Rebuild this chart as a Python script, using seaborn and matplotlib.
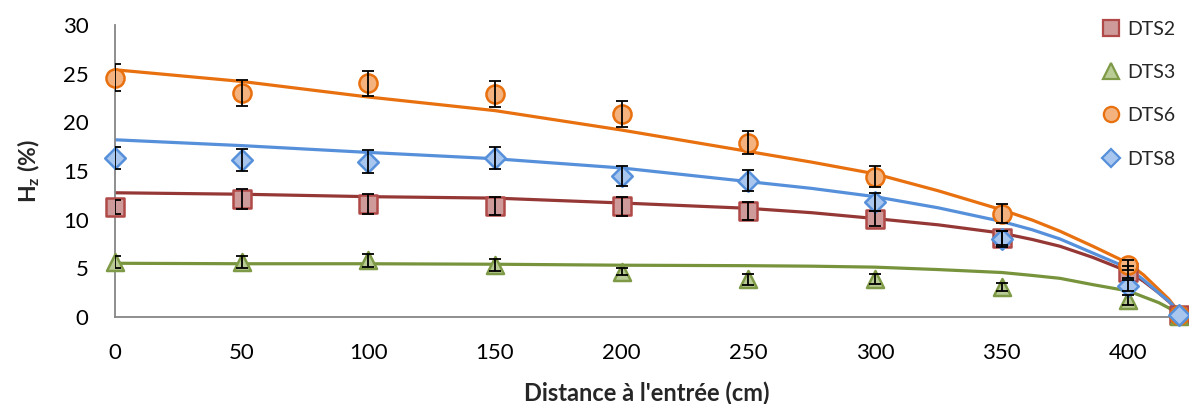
import numpy as np
import pandas as pd
import matplotlib
matplotlib.use("Agg")
import matplotlib.pyplot as plt
from matplotlib.lines import Line2D
import seaborn as sns

# ---- data ----
x_pts = [0, 50, 100, 150, 200, 250, 300, 350, 400, 420]
dts2 = [11.3, 12.1, 11.6, 11.4, 11.35, 10.9, 10.1, 8.1, 4.6, 0.2]
dts2_err = [0.7, 1.0, 1.0, 0.95, 0.95, 0.9, 0.8, 0.7, 0.6, 0.0]
dts3 = [5.6, 5.65, 5.8, 5.35, 4.65, 3.85, 3.9, 3.05, 1.7, 0.1]
dts3_err = [0.6, 0.6, 0.65, 0.6, 0.35, 0.55, 0.5, 0.45, 0.5, 0.0]
dts6 = [24.6, 23.0, 24.0, 22.9, 20.85, 17.9, 14.4, 10.6, 5.3, 0.2]
dts6_err = [1.4, 1.3, 1.3, 1.3, 1.3, 1.2, 1.1, 0.95, 0.5, 0.0]
dts8 = [16.35, 16.1, 15.95, 16.3, 14.5, 14.0, 11.8, 8.0, 3.2, 0.2]
dts8_err = [1.15, 1.15, 1.15, 1.15, 1.05, 1.05, 0.95, 0.8, 0.6, 0.0]

# trend curves
x_fit = [0, 50, 100, 150, 200, 250, 275, 300, 325, 350, 362, 373, 386, 400, 406, 412, 416, 419, 420]
fit2 = [12.75, 12.6, 12.35, 12.2, 11.7, 11.15, 10.7, 10.1, 9.45, 8.6, 7.95, 7.25, 6.1, 4.65, 3.65, 2.45, 1.55, 0.8, 0.2]
fit3 = [5.5, 5.45, 5.45, 5.4, 5.3, 5.25, 5.2, 5.1, 4.85, 4.55, 4.25, 3.95, 3.3, 2.65, 2.05, 1.45, 0.9, 0.45, 0.1]
fit6 = [25.4, 24.2, 22.6, 21.2, 19.2, 17.0, 15.9, 14.7, 12.95, 11.0, 9.95, 8.8, 7.25, 5.5, 4.3, 2.8, 1.8, 0.8, 0.2]
fit8 = [18.2, 17.6, 16.9, 16.25, 15.3, 13.9, 13.2, 12.35, 11.2, 9.8, 8.95, 8.0, 6.55, 5.0, 3.8, 2.45, 1.6, 0.8, 0.2]

series = ["DTS2", "DTS3", "DTS6", "DTS8"]
x_ticks = [0, 50, 100, 150, 200, 250, 300, 350, 400]
y_ticks = [0, 5, 10, 15, 20, 25, 30]

# ---- styling ----
sns.set_theme(style="white")
plt.rcParams['font.family'] = ['Lato', 'DejaVu Sans']
plt.rcParams['mathtext.fontset'] = 'custom'
plt.rcParams['mathtext.rm'] = 'Lato'
plt.rcParams['mathtext.bf'] = 'Lato:bold'

line_col = {"DTS2": "#953735", "DTS3": "#77933C", "DTS6": "#E8700F", "DTS8": "#5690DB"}
face_col = {"DTS2": "#CF9A9A", "DTS3": "#B9CC96", "DTS6": "#F4B27F", "DTS8": "#A9C6EE"}
edge_col = {"DTS2": "#B04A48", "DTS3": "#7F9A47", "DTS6": "#E8700F", "DTS8": "#5690DB"}
markers = {"DTS2": "s", "DTS3": "^", "DTS6": "o", "DTS8": "D"}
msize = {"DTS2": 150, "DTS3": 150, "DTS6": 170, "DTS8": 110}

pts = pd.DataFrame({
    "x": x_pts * 4,
    "y": dts2 + dts3 + dts6 + dts8,
    "err": dts2_err + dts3_err + dts6_err + dts8_err,
    "s": sum([[n] * len(x_pts) for n in series], []),
})
fits = pd.DataFrame({
    "x": x_fit * 4,
    "y": fit2 + fit3 + fit6 + fit8,
    "s": sum([[n] * len(x_fit) for n in series], []),
})

fig = plt.figure(figsize=(11.89, 4.04), dpi=100)
ax = fig.add_axes([0.0967, 0.216, 0.8949, 0.722])

for n in series:
    sub = fits[fits.s == n]
    sns.lineplot(data=sub, x="x", y="y", ax=ax, color=line_col[n], lw=2.3,
                 sort=False, estimator=None, zorder=2, legend=False)
for n in series:
    sub = pts[pts.s == n]
    sns.scatterplot(data=sub, x="x", y="y", ax=ax, marker=markers[n], s=msize[n],
                    color=face_col[n], edgecolor=edge_col[n], linewidth=1.8,
                    zorder=3, legend=False, clip_on=False)
    e = sub[sub.err > 0]
    ax.errorbar(e.x, e.y, yerr=e.err, fmt="none", ecolor="black", elinewidth=1.3,
                capsize=4.5, capthick=1.3, zorder=4)

ax.set_xlim(0, 420)
ax.set_ylim(0, 30)
ax.set_xticks(x_ticks)
ax.set_yticks(y_ticks)
ax.tick_params(axis="both", direction="in", length=6, width=1.2, color="#868686",
               labelsize=16, labelcolor="black")
ax.tick_params(axis="x", pad=19)
ax.tick_params(axis="y", pad=19)
for side in ["top", "right"]:
    ax.spines[side].set_visible(False)
for side in ["left", "bottom"]:
    ax.spines[side].set_color("#868686")
    ax.spines[side].set_linewidth(1.3)
ax.grid(False)

ax.set_xlabel("Distance à l'entrée (cm)", fontsize=17, fontweight="bold", labelpad=13)
ax.set_ylabel(r"$\mathbf{H_z}$ (%)", fontsize=16.5, fontweight="bold", labelpad=15)

handles = [Line2D([], [], ls="none", marker=markers[n], markersize=11 if n != "DTS8" else 9,
                  markerfacecolor=face_col[n], markeredgecolor=edge_col[n],
                  markeredgewidth=1.6) for n in series]
leg = ax.legend(handles, series, loc="upper right", bbox_to_anchor=(1183 / 1189, 1 - 13 / 404),
                bbox_transform=fig.transFigure, frameon=False, fontsize=14,
                handlelength=0.8, handletextpad=0.4, labelspacing=1.35, borderaxespad=0)

fig.savefig("out.png", dpi=100)
